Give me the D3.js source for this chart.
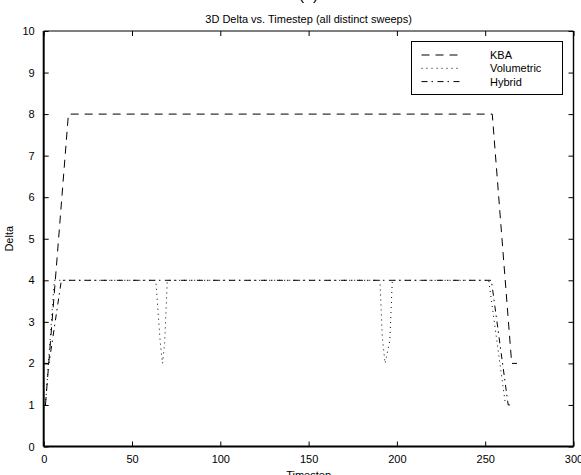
<!DOCTYPE html>
<html>
<head>
<meta charset="utf-8">
<script src="https://cdn.jsdelivr.net/npm/d3@7"></script>
<style>
  body { margin: 0; background: #fff; }
  svg { display: block; font-family: "Liberation Sans", Arial, Helvetica, sans-serif; }
</style>
</head>
<body>
<svg id="chart" width="581" height="475"></svg>
<script>
// values
const xTicks = [0, 50, 100, 150, 200, 250, 300];
const yTicks = [0, 1, 2, 3, 4, 5, 6, 7, 8, 9, 10];
const seriesNames = ["KBA", "Volumetric", "Hybrid"];

const kbaSteps = [1, 14, 254, 265, 268];
const kbaDelta = [1, 8, 8, 2, 2];

const volSteps = [1, 6, 63.5, 66, 67.3, 68.5, 70, 190.4, 191.7, 193.3, 196, 197.4, 252, 261.5];
const volDelta = [1, 4, 4, 2.5, 2, 2.5, 4, 4, 2.65, 2, 2.55, 4, 4, 1];

const hybSteps = [0.5, 3, 10, 253.5, 263, 264.5];
const hybDelta = [2, 2, 4, 4, 1, 1];

const dashes = ["8,6", "1,4", "6,4,1.5,4.5"];

const svg = d3.select("#chart");
const plotLeft = 43.7, plotRight = 573.5, plotTop = 31, plotBottom = 446.5;

const x = d3.scaleLinear().domain([0, 300]).range([plotLeft, plotRight]);
const y = d3.scaleLinear().domain([0, 10]).range([plotBottom, plotTop]);

svg.append("defs").append("clipPath").attr("id", "plotclip")
  .append("rect").attr("x", plotLeft).attr("y", plotTop)
  .attr("width", plotRight - plotLeft).attr("height", plotBottom - plotTop);

// ticks + labels
const xAxis = svg.append("g").attr("transform", `translate(0,${plotBottom})`)
  .call(d3.axisBottom(x).tickValues(xTicks).tickSize(-5).tickPadding(9).tickFormat(d3.format("d")));
const xTop = svg.append("g").attr("transform", `translate(0,${plotTop})`)
  .call(d3.axisTop(x).tickValues(xTicks).tickSize(-5).tickFormat(""));
const yAxis = svg.append("g").attr("transform", `translate(${plotLeft},0)`)
  .call(d3.axisLeft(y).tickValues(yTicks).tickSize(-5).tickPadding(9).tickFormat(d3.format("d")));
const yRight = svg.append("g").attr("transform", `translate(${plotRight},0)`)
  .call(d3.axisRight(y).tickValues(yTicks).tickSize(-5).tickFormat(""));

[xAxis, xTop, yAxis, yRight].forEach(g => {
  g.select(".domain").remove();
  g.selectAll("line").attr("stroke", "#000").attr("stroke-width", 1);
  g.selectAll("text").attr("fill", "#000").style("font-size", "11px")
    .style("font-family", '"Liberation Sans", Arial, sans-serif');
});

// frame
svg.append("line").attr("x1", plotLeft).attr("x2", plotRight).attr("y1", plotTop).attr("y2", plotTop)
  .attr("stroke", "#000").attr("stroke-width", 1.2);
svg.append("line").attr("x1", plotRight).attr("x2", plotRight).attr("y1", plotTop).attr("y2", plotBottom)
  .attr("stroke", "#000").attr("stroke-width", 1.4);
svg.append("line").attr("x1", plotLeft).attr("x2", plotRight).attr("y1", plotBottom).attr("y2", plotBottom)
  .attr("stroke", "#000").attr("stroke-width", 2);
svg.append("line").attr("x1", plotLeft).attr("x2", plotLeft).attr("y1", plotTop).attr("y2", plotBottom)
  .attr("stroke", "#000").attr("stroke-width", 2);

// series
const line = d3.line().x(d => x(d[0])).y(d => y(d[1]));
const series = [
  d3.zip(kbaSteps, kbaDelta),
  d3.zip(volSteps, volDelta),
  d3.zip(hybSteps, hybDelta)
];
svg.append("g").attr("clip-path", "url(#plotclip)")
  .selectAll("path").data(series).join("path")
  .attr("d", line)
  .attr("fill", "none")
  .attr("stroke", "#000")
  .attr("stroke-width", 1)
  .attr("stroke-dasharray", (d, i) => dashes[i]);

// titles
const midX = (plotLeft + plotRight) / 2;
svg.append("text").attr("x", midX).attr("y", 0)
  .attr("text-anchor", "middle").style("font-size", "16px").text("(a)");
svg.append("text").attr("x", midX).attr("y", 23)
  .attr("text-anchor", "middle").style("font-size", "11px")
  .text("3D Delta vs. Timestep (all distinct sweeps)");
svg.append("text").attr("x", midX).attr("y", 479)
  .attr("text-anchor", "middle").style("font-size", "11px").text("Timestep");
svg.append("text").attr("transform", `translate(13,${(plotTop + plotBottom) / 2}) rotate(-90)`)
  .attr("text-anchor", "middle").style("font-size", "11px").text("Delta");

// legend
const lg = svg.append("g").attr("transform", "translate(411.5,41.5)");
lg.append("rect").attr("width", 151).attr("height", 53)
  .attr("fill", "#fff").attr("stroke", "#000").attr("stroke-width", 1);
seriesNames.forEach((name, i) => {
  const cy = 13.5 + i * 13.3;
  lg.append("line").attr("x1", 10).attr("x2", 49).attr("y1", cy).attr("y2", cy)
    .attr("stroke", "#000").attr("stroke-width", 1).attr("stroke-dasharray", dashes[i]);
  lg.append("text").attr("x", 78.5).attr("y", cy + 4).style("font-size", "11px").text(name);
});
</script>
</body>
</html>
